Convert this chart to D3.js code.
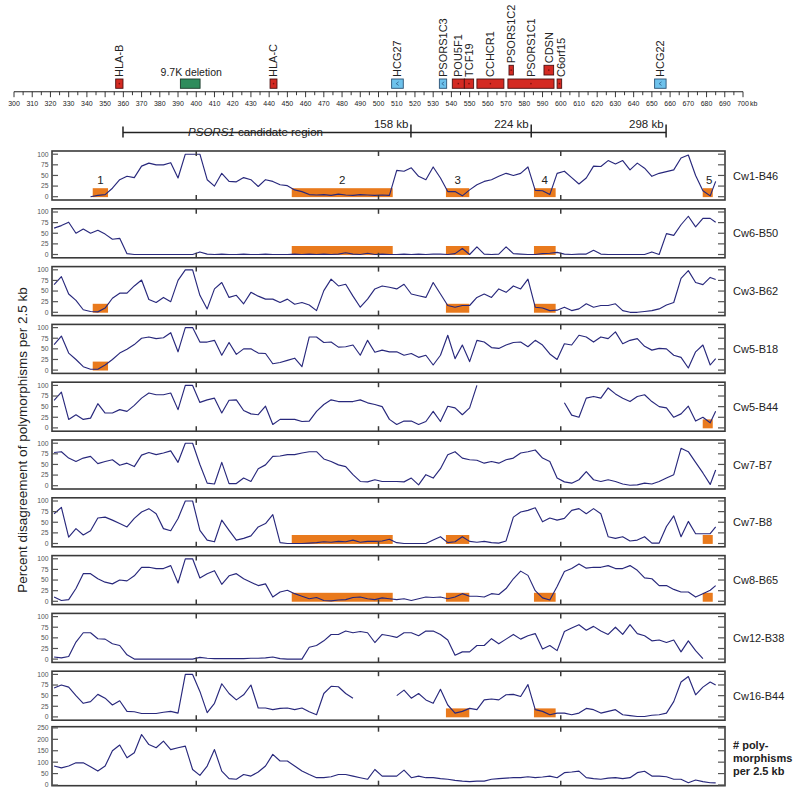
<!DOCTYPE html>
<html><head><meta charset="utf-8">
<script src="https://cdn.jsdelivr.net/npm/d3@7"></script>
<style>body{margin:0;background:#fff}svg{display:block}text{font-family:"Liberation Sans",Arial,sans-serif}</style>
</head><body><svg id="c" width="800" height="796"></svg>
<script>
// ---------- data ----------
const KB = [322,326,330,334,338,342,346,350,354,358,
            362,366,370,374,378,382,386,390,394,398,
            402,406,410,414,418,422,426,430,434,438,
            442,446,450,454,458,462,466,470,474,478,
            482,486,490,494,498,502,506,510,514,518,
            522,526,530,534,538,542,546,550,554,558,
            562,566,570,574,578,582,586,590,594,598,
            602,606,610,614,618,622,626,630,634,638,
            642,646,650,654,658,662,666,670,674,678,
            682,685];
const _ = null;
const seriesNames = ["Cw1-B46","Cw6-B50","Cw3-B62","Cw5-B18","Cw5-B44","Cw7-B7","Cw7-B8","Cw8-B65","Cw12-B38","Cw16-B44"];
const cw1_b46 = [_,_,_,_,_,0,3,5,20,40, 48,45,72,79,75,75,80,44,100,100, 100,40,25,55,36,35,45,40,24,40,
  36,28,26,16,12,5,4,5,3,6, 4,3,5,4,3,4,3,62,60,68, 48,40,70,44,12,12,2,16,28,36,
  40,48,55,50,55,70,15,14,5,55, 60,45,30,44,72,71,85,77,85,63, 79,67,48,55,59,63,91,98,50,14, 2,36];
const cw6_b50 = [62,68,76,50,60,50,57,48,36,38, 2,0,0,0,0,0,0,0,0,0, 6,1,0,1,0,0,1,0,0,1,
  0,0,0,1,0,1,0,1,0,1, 4,1,0,3,0,1,0,0,1,0, 1,0,1,1,0,2,14,0,18,1,
  0,1,18,2,1,0,0,2,3,5, 1,0,1,1,10,1,0,0,0,0, 0,0,6,0,49,45,70,90,65,85, 85,76];
const cw3_b62 = [65,84,43,28,6,2,1,10,33,45, 45,62,76,30,23,35,25,75,100,100, 40,8,55,70,35,40,20,47,38,31,
  31,23,31,19,23,17,4,51,78,62, 66,38,12,31,55,62,59,55,66,43, 39,35,70,43,16,12,16,16,35,43,
  35,55,47,62,55,78,12,10,4,5, 12,4,8,20,12,16,16,20,4,0, 0,2,4,8,17,23,80,98,70,65, 82,77];
const cw5_b18 = [60,80,40,25,8,2,2,12,25,40, 49,60,75,78,74,76,88,43,100,100, 66,66,70,35,65,37,50,50,40,39,
  15,18,23,28,8,78,78,65,66,54, 55,59,35,70,42,47,43,43,35,39, 30,35,12,35,82,27,59,20,70,66,
  53,51,59,65,66,55,70,59,38,25, 62,59,82,78,66,78,74,90,62,70, 74,56,47,51,50,35,30,5,43,59, 12,27];
const cw5_b44 = [65,84,20,31,20,23,57,35,35,43, 39,53,70,82,78,78,82,43,100,100, 60,66,70,35,65,66,41,33,31,51,
  8,20,20,20,15,16,39,55,66,62, 62,62,66,59,55,50,20,8,16,16, 8,15,39,15,51,47,31,47,100,_,
  _,_,_,_,_,_,_,_,_,_, 59,30,25,70,74,70,94,80,70,62, 74,78,62,50,47,25,33,51,16,25, 12,39];
const cw7_b7 = [78,80,65,57,65,69,52,57,61,48, 53,45,72,78,73,77,82,55,100,100, 50,6,4,55,5,5,18,10,40,49,
  69,70,73,73,77,80,80,63,57,49, 45,26,10,9,14,10,10,10,9,18, 2,26,18,40,73,80,65,61,60,53,
  57,53,61,65,77,80,84,65,57,18, 9,6,14,33,14,10,14,10,4,1, 2,6,4,10,18,26,88,80,55,30, 3,37];
const cw7_b8 = [70,85,15,35,20,30,60,62,55,47, 39,59,74,82,70,35,30,59,100,100, 31,8,4,55,31,8,12,18,39,47,
  68,2,0,0,0,1,2,4,3,5, 4,8,3,5,5,6,10,2,0,0, 0,0,8,16,2,4,16,5,3,5,
  2,1,6,62,74,78,84,51,60,55, 59,78,82,70,82,70,16,12,16,6, 8,16,1,1,40,65,16,52,23,23, 23,39];
const cw8_b65 = [10,2,4,30,65,65,53,45,41,50, 48,60,80,80,77,77,84,43,100,100, 55,65,72,40,60,65,53,45,37,41,
  10,22,26,18,12,6,9,2,1,3, 4,9,10,6,4,8,6,4,6,2, 6,10,9,10,6,10,18,12,12,10,
  18,16,30,53,71,61,25,8,3,35, 70,77,88,78,80,80,84,77,77,84, 73,55,53,37,37,28,22,22,10,18, 26,37];
const cw12_b38 = [5,3,6,40,62,62,48,47,36,32, 10,0,0,0,0,0,0,0,0,0, 4,2,1,1,1,1,1,2,2,3,
  5,1,0,0,0,28,32,43,58,58, 66,62,65,62,39,58,55,51,62,62, 55,66,66,58,45,9,17,17,32,32,
  48,36,47,58,47,55,60,24,32,20, 65,73,81,68,77,66,58,75,58,81, 60,55,43,45,39,45,17,43,20,1, _,_];
const cw16_b44 = [68,75,70,50,32,36,53,44,28,38, 13,12,8,8,8,11,13,9,100,100, 60,10,32,78,55,40,52,75,21,21,
  17,20,21,17,21,12,5,55,72,71, 55,44,_,_,_,_,_,50,63,44, 55,40,32,65,28,9,13,20,17,40,
  42,40,52,53,48,76,17,13,5,9, 9,5,9,20,17,9,13,17,5,3, 1,1,4,5,9,36,82,95,52,70, 82,75];
const polymorphisms = [83,75,83,97,97,80,61,83,150,175, 119,141,221,177,163,192,155,163,170,68, 42,83,155,61,28,25,46,39,57,83,
  134,105,105,83,61,46,32,32,36,46, 46,39,32,25,68,39,39,39,65,32, 39,32,32,28,25,20,17,15,17,17,
  25,28,30,32,32,36,32,35,39,32, 54,57,61,32,28,25,30,32,28,32, 54,60,39,39,36,25,25,10,22,15, 10,9];
const panelSeries = [cw1_b46,cw6_b50,cw3_b62,cw5_b18,cw5_b44,cw7_b7,cw7_b8,cw8_b65,cw12_b38,cw16_b44];

// candidate blocks (kb) and which panels show them
const blockIds = [1,2,3,4,5];
const blockStart = [343.2,452.4,537.0,585.3,677.9];
const blockEnd   = [351.6,507.8,549.8,597.2,683.4];
const panelBlocks = [[1,2,3,4,5],[2,3,4],[1,3,4],[1],[5],[],[2,3,5],[2,3,4,5],[],[3,4]];

// genes: name, start kb, end kb, type, row
const geneNames = ["HLA-B","9.7K deletion","HLA-C","HCG27","PSORS1C3","POU5F1","TCF19","CCHCR1","PSORS1C2","PSORS1C1","CDSN","C6orf15","HCG22"];
const geneStart = [355.8,391.3,440.5,507.2,533.4,540.5,547.1,554.0,571.6,571.0,590.8,598.0,651.5];
const geneEnd   = [359.8,402.1,444.3,513.6,537.4,547.1,552.2,568.8,574.0,596.3,596.1,600.5,657.8];
const geneType  = ["red","green","red","blue","blue","red","red","red","red","red","red","red","blue"];
const geneRow   = [0,0,0,0,0,0,0,0,1,0,1,0,0];

const axisLabels = [300,310,320,330,340,350,360,370,380,390,400,410,420,430,440,450,460,470,480,490,500,
                    510,520,530,540,550,560,570,580,590,600,610,620,630,640,650,660,670,680,690,700];
const panelXTicks = [400,500,600];
const pctTicks = [0,25,50,75,100];
const polyTicks = [0,50,100,150,200,250];
const regionMarks = [359.8,517.8,583.8,657.8];
const regionLabels = ["158 kb","224 kb","298 kb"];

// ---------- drawing ----------
const svg = d3.select("#c");
const x = d3.scaleLinear().domain([300,700]).range([14,743]);
const PL = 52, PR = 725;
const LINE = "#28287c", ORANGE = "#e97a1d", FRAME = "#3a3a3a";
const fill = {red:"#d42a22", green:"#2f8c5c", blue:"#6ec2ec"};
const edge = {red:"#4a1010", green:"#1c3a2a", blue:"#2a5275"};

// gene axis
const AX = 91.7;
svg.append("line").attr("x1",x(300)).attr("x2",x(700)).attr("y1",AX).attr("y2",AX).attr("stroke","#222").attr("stroke-width",1.1);
const minor = axisLabels.slice(0,-1).map(v=>v+5);
svg.selectAll(".mt").data(axisLabels).join("line").attr("x1",d=>x(d)).attr("x2",d=>x(d)).attr("y1",AX).attr("y2",AX+5.5).attr("stroke","#222").attr("stroke-width",0.9);
svg.selectAll(".mn").data(minor).join("line").attr("x1",d=>x(d)).attr("x2",d=>x(d)).attr("y1",AX).attr("y2",AX+3.5).attr("stroke","#222").attr("stroke-width",0.9);
svg.selectAll(".al").data(axisLabels).join("text").attr("x",d=>x(d)).attr("y",106).attr("text-anchor","middle")
  .attr("font-size",7).attr("fill","#222").text(d=>d);
svg.append("text").attr("x",x(700)+7).attr("y",106).attr("font-size",7).attr("fill","#222").text("kb");

// genes
geneNames.forEach((name,i)=>{
  const x0 = x(geneStart[i]), x1 = x(geneEnd[i]);
  const y0 = geneRow[i]===0 ? 79 : 65.3, h = geneRow[i]===0 ? 9.3 : 9.7;
  svg.append("rect").attr("x",x0).attr("y",y0).attr("width",x1-x0).attr("height",h)
    .attr("fill",fill[geneType[i]]).attr("stroke",edge[geneType[i]]).attr("stroke-width",0.9);
  const cx = (x0+x1)/2;
  if (geneType[i]==="red" && x1-x0>4) svg.append("circle").attr("cx",cx).attr("cy",y0+h/2).attr("r",0.8).attr("fill","#7a1010");
  if (geneType[i]==="blue") svg.append("path").attr("d",`M${cx+1.2},${y0+h/2-1.8}L${cx-1.2},${y0+h/2}L${cx+1.2},${y0+h/2+1.8}`).attr("fill","none").attr("stroke","#24507a").attr("stroke-width",0.7);
  if (geneType[i]==="green") {
    svg.append("text").attr("x",cx+1).attr("y",76).attr("text-anchor","middle").attr("font-size",10.5).attr("fill","#222").text(name);
  } else {
    const yb = y0 - 2;
    const dx = name==="C6orf15" ? 1.5 : 0;
    svg.append("text").attr("transform",`translate(${cx+3.9+dx},${yb}) rotate(-90)`).attr("font-size",11).attr("fill","#222").text(name);
  }
});

// PSORS1 candidate region bracket
const BY = 132.5;
const rl = svg.append("g");
rl.append("line").attr("x1",x(regionMarks[0])).attr("x2",x(regionMarks[3])).attr("y1",BY).attr("y2",BY).attr("stroke","#222").attr("stroke-width",1.5);
regionMarks.forEach((m,i)=>{
  rl.append("line").attr("x1",x(m)).attr("x2",x(m)).attr("y1",i===0?126.5:124.5).attr("y2",137.5).attr("stroke","#222").attr("stroke-width",1.5);
  if (i>0) rl.append("text").attr("x",x(m)-2.5).attr("y",127.5).attr("text-anchor","end").attr("font-size",11.5).attr("fill","#222").text(regionLabels[i-1]);
});
const rt = svg.append("text").attr("x",255.5).attr("y",136).attr("text-anchor","middle").attr("font-size",11.5).attr("fill","#222");
rt.append("tspan").attr("font-style","italic").text("PSORS1");
rt.append("tspan").text(" candidate region");
const bb = rt.node().getBBox();
svg.insert("rect", "text").attr("x",bb.x-11).attr("y",BY-2).attr("width",bb.width+15).attr("height",4).attr("fill","#fff");
rt.raise();

// panels
function drawPanel(top, h, y, values, ticks, blocks) {
  const g = svg.append("g");
  const bottom = top + h;
  g.append("rect").attr("x",PL).attr("y",top).attr("width",PR-PL).attr("height",h).attr("fill","#fff");
  blocks.forEach(b=>{
    const k = blockIds.indexOf(b);
    g.append("rect").attr("x",x(blockStart[k])).attr("width",x(blockEnd[k])-x(blockStart[k]))
      .attr("y",y(20)).attr("height",y(-1)-y(20)).attr("fill",ORANGE);
  });
  const line = d3.line().defined(d=>d!=null).x((d,i)=>x(KB[i])).y(d=>y(d));
  g.append("path").datum(values).attr("d",line).attr("fill","none").attr("stroke",LINE).attr("stroke-width",1.15).attr("stroke-linejoin","round");
  g.append("rect").attr("x",PL).attr("y",top).attr("width",PR-PL).attr("height",h).attr("fill","none").attr("stroke",FRAME).attr("stroke-width",1.6);
  ticks.forEach(t=>{
    g.append("line").attr("x1",PL).attr("x2",PL+6).attr("y1",y(t)).attr("y2",y(t)).attr("stroke","#555").attr("stroke-width",1.2);
    g.append("line").attr("x1",PR-7).attr("x2",PR).attr("y1",y(t)).attr("y2",y(t)).attr("stroke","#555").attr("stroke-width",1.2);
    g.append("text").attr("x",48.5).attr("y",y(t)+2.4).attr("text-anchor","end").attr("font-size",6.8).attr("fill","#555").text(t);
  });
  panelXTicks.forEach(t=>{
    g.append("line").attr("x1",x(t)).attr("x2",x(t)).attr("y1",top).attr("y2",top+5).attr("stroke",FRAME).attr("stroke-width",1.5);
    g.append("line").attr("x1",x(t)).attr("x2",x(t)).attr("y1",bottom-5).attr("y2",bottom).attr("stroke",FRAME).attr("stroke-width",1.5);
  });
  return g;
}

seriesNames.forEach((name,i)=>{
  const top = 151 + i*57.8, h = 49;
  const y = d3.scaleLinear().domain([0,100]).range([top+45.7, top+3.2]);
  const g = drawPanel(top, h, y, panelSeries[i], pctTicks, panelBlocks[i]);
  g.append("text").attr("x",733).attr("y",top+h/2+4).attr("font-size",11).attr("fill","#222").text(name);
  if (i===0) {
    blockIds.forEach((b,k)=>{
      g.append("text").attr("x",x((blockStart[k]+blockEnd[k])/2)+(b===5?1.5:0)).attr("y",top+32.5)
        .attr("text-anchor","middle").attr("font-size",11.5).attr("fill","#222").text(b);
    });
  }
});

// bottom: polymorphism count
{
  const top = 726.7, h = 59;
  const y = d3.scaleLinear().domain([0,250]).range([785, 727.9]);
  drawPanel(top, h, y, polymorphisms, polyTicks, []);
  ["# poly-","morphisms","per 2.5 kb"].forEach((t,k)=>{
    svg.append("text").attr("x",733).attr("y",748.5+k*13).attr("font-size",11).attr("font-weight","bold").attr("fill","#222").text(t);
  });
}

// y axis title
svg.append("text").attr("transform","translate(27,440) rotate(-90)").attr("text-anchor","middle")
  .attr("font-size",13.5).attr("fill","#222").text("Percent disagreement of polymorphisms per 2.5 kb");
</script>
</body></html>
